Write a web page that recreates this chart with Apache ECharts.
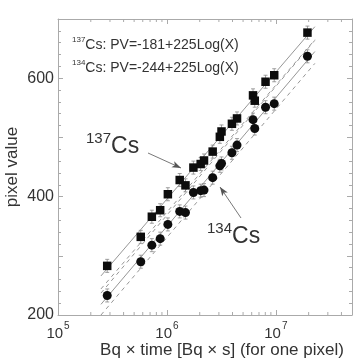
<!DOCTYPE html>
<html><head><meta charset="utf-8">
<script src="https://cdn.jsdelivr.net/npm/echarts@6/dist/echarts.min.js"></script>
<style>html,body{margin:0;padding:0;background:#fff}#c{width:356px;height:362px}</style>
</head><body><div id="c"></div>
<script>
// exposure (Bq x s) for each measured pixel
const exposure = [2.83e5, 5.75e5, 7.27e5, 8.67e5, 1.02e6, 1.31e6, 1.48e6, 1.75e6, 2.04e6, 2.19e6, 2.63e6, 3.06e6, 3.17e6, 3.95e6, 4.40e6, 6.17e6, 6.40e6, 8.04e6, 9.66e6, 1.95e7];
const cs137 = [283, 332, 366, 377, 404, 428, 419, 449, 455, 461, 476, 501, 510, 523, 532, 571, 562, 594, 605, 677];
const cs134 = [233, 290, 318, 329, 353, 375, 373, 407, 410, 411, 432, 452, 456, 474, 487, 530, 515, 551, 557, 637];
const errHalf = 11;
// fitted lines
const fitX = [2.48e5, 2.28e7];
const fit137 = [266, 687];
const fit134 = [218, 645];
const band137Lo = [244, 665];
const band134Hi = [237, 664];
const band134Lo = [200, 625];
const xMinorTicks = [2e5,3e5,4e5,5e5,6e5,7e5,8e5,9e5,2e6,3e6,4e6,5e6,6e6,7e6,8e6,9e6,2e7,3e7,4e7];
const yLabels = [200, 400, 600];

const chart = echarts.init(document.getElementById('c'), null, {renderer: 'canvas'});
const txt = '#333';
const axisCol = '#aaa';
const FONT = 'Liberation Sans, Arial, sans-serif';

function pairs(xs, ys){ return xs.map((x,i)=>[x, ys[i]]); }

const xAxisBase = {
  type: 'log', logBase: 10, min: 1e5, max: 5e7,
  axisLine: {show: true, lineStyle: {color: axisCol, width: 1}},
  axisTick: {show: true, inside: true, length: 5, lineStyle: {color: axisCol}},
  splitLine: {show: false}
};
const yAxisBase = {
  type: 'value', min: 200, max: 700, interval: 100,
  axisLine: {show: true, lineStyle: {color: axisCol, width: 1}},
  axisTick: {show: true, inside: true, length: 5, lineStyle: {color: axisCol}},
  minorTick: {show: true, splitNumber: 5, length: 3, lineStyle: {color: axisCol}},
  splitLine: {show: false}
};

function lineSeries(ys, dashed){
  return {
    type: 'line', data: pairs(fitX, ys), symbol: 'none', silent: true,
    lineStyle: {color: '#8a8a8a', width: 0.9, type: dashed ? [4,4] : 'solid'}, z: 2, animation: false
  };
}

function errSeries(ys){
  return {
    type: 'custom', data: pairs(exposure, ys), z: 3, animation: false, silent: true,
    renderItem: function(params, api){
      const x = api.value(0), y = api.value(1);
      const a = api.coord([x, y - errHalf]);
      const b = api.coord([x, y + errHalf]);
      const st = {stroke: '#888', lineWidth: 0.8};
      return {type: 'group', children: [
        {type: 'line', shape: {x1: a[0], y1: a[1], x2: b[0], y2: b[1]}, style: st},
        {type: 'line', shape: {x1: a[0]-2, y1: a[1], x2: a[0]+2, y2: a[1]}, style: st},
        {type: 'line', shape: {x1: b[0]-2, y1: b[1], x2: b[0]+2, y2: b[1]}, style: st}
      ]};
    }
  };
}

const option = {
  animation: false,
  grid: {left: 58, right: 4, top: 19, bottom: 47, containLabel: false},
  xAxis: [
    Object.assign({}, xAxisBase, {position: 'bottom',
      axisLabel: {show: true, margin: 6, showMaxLabel: false,
        formatter: function(v){
          const e = Math.log10(v); const r = Math.round(e);
          if (Math.abs(e - r) > 1e-6) return '';
          return '{b|10}{s|' + r + '}';
        },
        rich: {
          b: {fontSize: 15, fontFamily: FONT, color: txt, verticalAlign: 'bottom', lineHeight: 20},
          s: {fontSize: 10, fontFamily: FONT, color: txt, verticalAlign: 'top', lineHeight: 20, padding: [0,0,0,1]}
        }
      }}),
    Object.assign({}, xAxisBase, {position: 'top', axisLabel: {show: false}})
  ],
  yAxis: [
    Object.assign({}, yAxisBase, {position: 'left',
      axisLabel: {show: true, margin: 4, fontSize: 16, fontFamily: FONT, color: txt,
        formatter: function(v){ return yLabels.indexOf(v) >= 0 ? String(v) : ''; }}}),
    Object.assign({}, yAxisBase, {position: 'right', axisLabel: {show: false}})
  ],
  series: [
    lineSeries(fit137, false),
    lineSeries(fit134, false),
    lineSeries(band137Lo, true),
    lineSeries(band134Hi, true),
    lineSeries(band134Lo, true),
    {
      type: 'custom', data: xMinorTicks.map(v=>[v, 200]), z: 1, silent: true, clip: false,
      renderItem: function(params, api){
        const v = api.value(0);
        const p = api.coord([v, 200]);
        const q = api.coord([v, 700]);
        const st = {stroke: axisCol, lineWidth: 1};
        return {type: 'group', children: [
          {type: 'line', shape: {x1: p[0], y1: p[1], x2: p[0], y2: p[1]-3}, style: st},
          {type: 'line', shape: {x1: q[0], y1: q[1], x2: q[0], y2: q[1]+3}, style: st}
        ]};
      }
    },
    errSeries(cs137),
    errSeries(cs134),
    {type: 'scatter', data: pairs(exposure, cs137), symbol: 'rect', symbolSize: 8.5, itemStyle: {color: '#0d0d0d', opacity: 1}, z: 4},
    {type: 'scatter', data: pairs(exposure, cs134), symbol: 'circle', symbolSize: 9, itemStyle: {color: '#0d0d0d', opacity: 1}, z: 4},
    {
      type: 'line', data: [], silent: true,
      markLine: {silent: true, symbol: ['none', 'arrow'], symbolSize: [5, 9], label: {show: false},
        lineStyle: {color: '#555', width: 0.8, type: 'solid'},
        data: [
          [{x: 148, y: 153}, {x: 181, y: 168}],
          [{x: 241, y: 218}, {x: 220, y: 187}]
        ]}
    }
  ],
  graphic: [
    {type: 'text', left: 72, top: 36, style: {
      rich: {p: {fontSize: 8, fontFamily: FONT, fill: txt, verticalAlign: 'top', lineHeight: 16},
             m: {fontSize: 14, fontFamily: FONT, fill: txt, verticalAlign: 'bottom', lineHeight: 16}},
      text: '{p|137}{m|Cs: PV=-181+225Log(X)}'}},
    {type: 'text', left: 72, top: 59, style: {
      rich: {p: {fontSize: 8, fontFamily: FONT, fill: txt, verticalAlign: 'top', lineHeight: 16},
             m: {fontSize: 14, fontFamily: FONT, fill: txt, verticalAlign: 'bottom', lineHeight: 16}},
      text: '{p|134}{m|Cs: PV=-244+225Log(X)}'}},
    {type: 'text', left: 86, top: 131, style: {
      rich: {p: {fontSize: 15, fontFamily: FONT, fill: txt, verticalAlign: 'top', lineHeight: 27},
             m: {fontSize: 23, fontFamily: FONT, fill: txt, verticalAlign: 'bottom', lineHeight: 27}},
      text: '{p|137}{m|Cs}'}},
    {type: 'text', left: 207, top: 221, style: {
      rich: {p: {fontSize: 15, fontFamily: FONT, fill: txt, verticalAlign: 'top', lineHeight: 27},
             m: {fontSize: 23, fontFamily: FONT, fill: txt, verticalAlign: 'bottom', lineHeight: 27}},
      text: '{p|134}{m|Cs}'}},
    {type: 'text', x: 222, y: 350, style: {text: 'Bq \u00d7 time [Bq \u00d7 s] (for one pixel)', fontSize: 17, fontFamily: FONT, fill: txt, align: 'center', verticalAlign: 'middle'}},
    {type: 'text', x: 12, y: 167, rotation: Math.PI/2, style: {text: 'pixel value', fontSize: 17, fontFamily: FONT, fill: txt, align: 'center', verticalAlign: 'middle'}}
  ]
};
chart.setOption(option);
</script></body></html>
